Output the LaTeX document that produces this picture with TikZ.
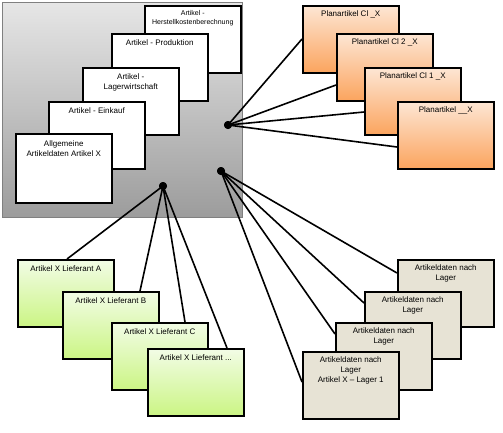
\documentclass[tikz,border=0pt]{standalone}
\usepackage{fontspec}
\setmainfont{Liberation Sans}
\definecolor{greytop}{HTML}{E6E6E6}
\definecolor{greybot}{HTML}{9C9C9C}
\definecolor{orangetop}{HTML}{FDE6D4}
\definecolor{orangebot}{HTML}{FBA45E}
\definecolor{greentop}{HTML}{F2FCE6}
\definecolor{greenbot}{HTML}{CBF584}
\definecolor{beige}{HTML}{E7E3D5}
\begin{document}
\begin{tikzpicture}[x=1pt,y=-1pt,
    box/.style={draw=black, line width=1.5pt, anchor=north west, minimum width=96pt, minimum height=67pt, inner sep=0pt},
    whitebox/.style={box, fill=white},
    planbox/.style={box, top color=orangetop, bottom color=orangebot},
    liefbox/.style={box, top color=greentop, bottom color=greenbot},
    lagerbox/.style={box, fill=beige},
    boxtext/.style={anchor=north, align=center, inner sep=0pt, font=\fontsize{8}{10}\selectfont},
    hub/.style={circle, fill=black, minimum size=8pt, inner sep=0pt},
    link/.style={draw=black, line width=1.6pt}]
                        \useasboundingbox (0,0) rectangle (503,432);
                        \node[draw=gray, anchor=north west, minimum width=240pt, minimum height=215pt, top color=greytop, bottom color=greybot] (artikel) at (2,2) {};

                        \node[whitebox](herst) at (144,5) {};
                        \node[boxtext, font=\fontsize{7}{9.5}\selectfont](herst-t) at ([yshift=-5pt]herst.north) {Artikel -\\Herstellkostenberechnung};
                        \node[whitebox](prod) at (111,33) {};
                        \node[boxtext](prod-t) at ([yshift=-6.5pt]prod.north) {Artikel - Produktion};
                        \node[whitebox](lager) at (82,67) {};
                        \node[boxtext](lager-t) at ([yshift=-6.5pt]lager.north) {Artikel -\\Lagerwirtschaft};
                        \node[whitebox](eink) at (48,101) {};
                        \node[boxtext](eink-t) at ([yshift=-6.5pt]eink.north) {Artikel - Einkauf};
                        \node[whitebox, minimum height=69pt](allg) at (15,133) {};
                        \node[boxtext](allg-t) at ([yshift=-7pt]allg.north) {Allgemeine\\Artikeldaten Artikel X};

                        \node[hub](hubplan) at (228,125) {};
                        \node[hub](hublief) at (163,186) {};
                        \node[hub](hublager) at (221,171) {};

                        \coordinate (endplan1) at (302,39);
                        \coordinate (endplan2) at (336,85);
                        \coordinate (endplan3) at (364,112);
                        \coordinate (endplan4) at (397,147);
                        \coordinate (endlief1) at (67,259);
                        \coordinate (endlief2) at (140,291);
                        \coordinate (endlief3) at (185,322);
                        \coordinate (endlief4) at (227,348);
                        \coordinate (endlag1) at (397,273);
                        \coordinate (endlag2) at (364,303);
                        \coordinate (endlag3) at (335,334);
                        \coordinate (endlag4) at (302,382);

                        \draw[link](hubplan.center) -- (endplan1);
                        \draw[link](hubplan.center) -- (endplan2);
                        \draw[link](hubplan.center) -- (endplan3);
                        \draw[link](hubplan.center) -- (endplan4);
                        \draw[link](hublief.center) -- (endlief1);
                        \draw[link](hublief.center) -- (endlief2);
                        \draw[link](hublief.center) -- (endlief3);
                        \draw[link](hublief.center) -- (endlief4);
                        \draw[link](hublager.center) -- (endlag1);
                        \draw[link](hublager.center) -- (endlag2);
                        \draw[link](hublager.center) -- (endlag3);
                        \draw[link](hublager.center) -- (endlag4);

                        \node[hub](hubplan-dot) at (hubplan) {};
                        \node[hub](hublief-dot) at (hublief) {};
                        \node[hub](hublager-dot) at (hublager) {};

                        \node[planbox](plan1) at (302,5) {};
                        \node[boxtext](plan1-t) at ([yshift=-5.5pt]plan1.north) {Planartikel Cl \_X};
                        \node[planbox](plan2) at (336,33) {};
                        \node[boxtext](plan2-t) at ([yshift=-5.5pt]plan2.north) {Planartikel Cl 2 \_X};
                        \node[planbox](plan3) at (364,67) {};
                        \node[boxtext](plan3-t) at ([yshift=-5.5pt]plan3.north) {Planartikel Cl 1 \_X};
                        \node[planbox](plan4) at (397,101) {};
                        \node[boxtext](plan4-t) at ([yshift=-5.5pt]plan4.north) {Planartikel \_\_X};

                        \node[liefbox](lief1) at (17,259) {};
                        \node[boxtext](lief1-t) at ([yshift=-6pt]lief1.north) {Artikel X Lieferant A};
                        \node[liefbox](lief2) at (62,291) {};
                        \node[boxtext](lief2-t) at ([yshift=-6pt]lief2.north) {Artikel X Lieferant B};
                        \node[liefbox](lief3) at (111,322) {};
                        \node[boxtext](lief3-t) at ([yshift=-6pt]lief3.north) {Artikel X Lieferant C};
                        \node[liefbox](lief4) at (147,348) {};
                        \node[boxtext](lief4-t) at ([yshift=-6pt]lief4.north) {Artikel X Lieferant ...};

                        \node[lagerbox](lag1) at (397,259) {};
                        \node[boxtext](lag1-t) at ([yshift=-5.5pt]lag1.north) {Artikeldaten nach\\Lager};
                        \node[lagerbox](lag2) at (364,291) {};
                        \node[boxtext](lag2-t) at ([yshift=-5.5pt]lag2.north) {Artikeldaten nach\\Lager};
                        \node[lagerbox](lag3) at (335,322) {};
                        \node[boxtext](lag3-t) at ([yshift=-5.5pt]lag3.north) {Artikeldaten nach\\Lager};
                        \node[lagerbox](lag4) at (302,351) {};
                        \node[boxtext](lag4-t) at ([yshift=-5.5pt]lag4.north) {Artikeldaten nach\\Lager\\Artikel X -- Lager 1};
\end{tikzpicture}
\end{document}
